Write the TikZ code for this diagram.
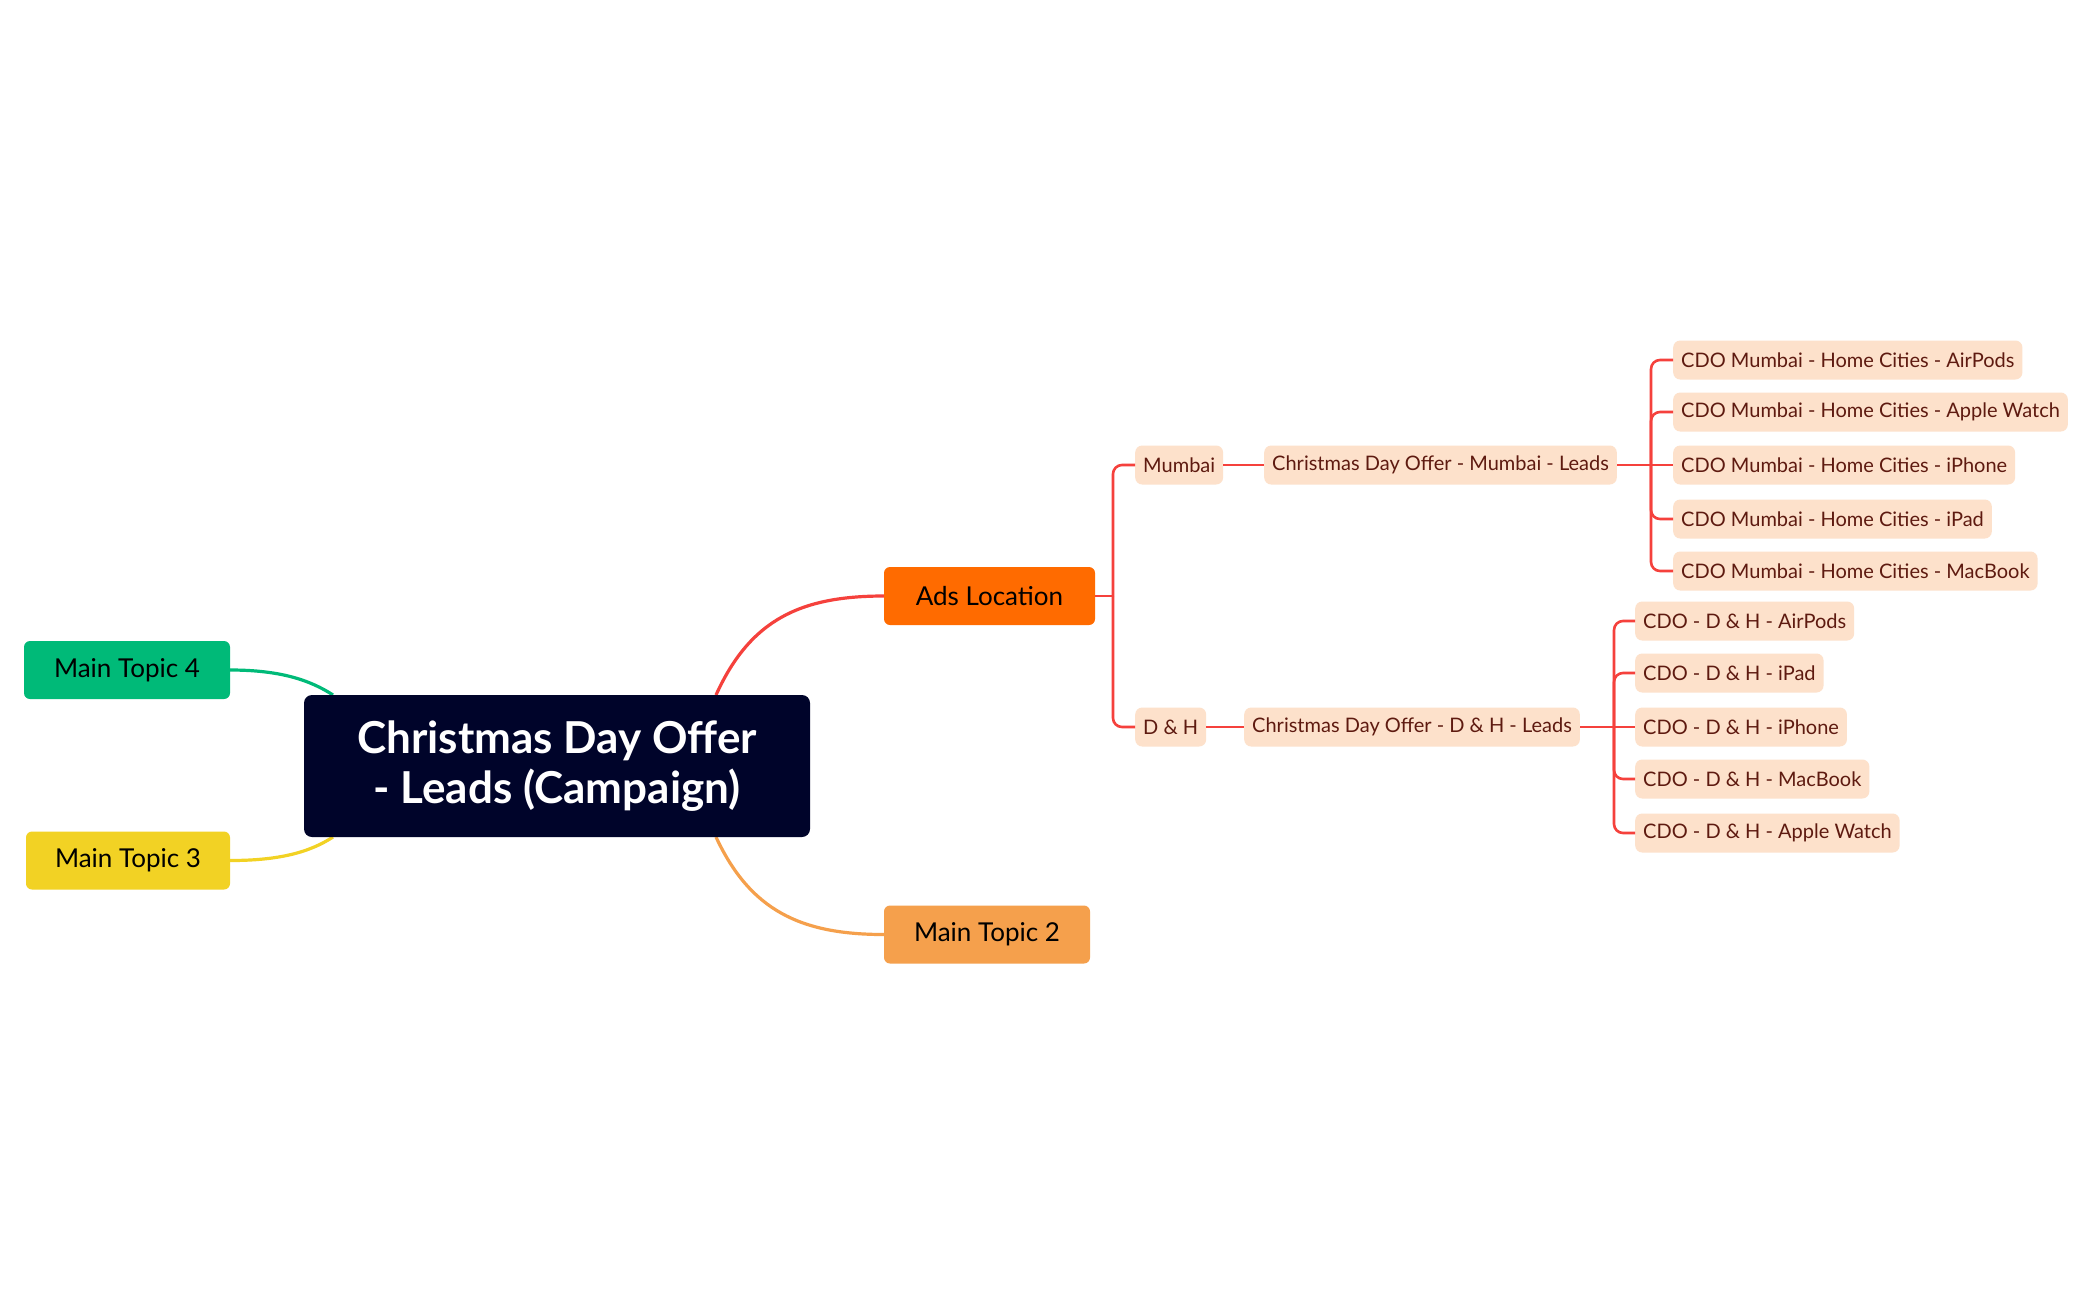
\documentclass[tikz,border=0pt]{standalone}
\usepackage{fontspec}
\setmainfont{Lato}
\begin{document}
\begin{tikzpicture}[x=1pt,y=-1pt,
  main/.style={rounded corners=6,minimum height=58,inner xsep=0,font=\fontsize{26}{30}\selectfont,text=black},
  sub/.style={rounded corners=7,fill=leaf,minimum height=39,inner xsep=8,font=\fontsize{20}{24}\selectfont,text=leaftxt,anchor=west},
  lk/.style={line width=3.2},
  rl/.style={draw=redl,line width=2.6,rounded corners=9}]
\definecolor{leaf}{HTML}{FDE1CB}
\definecolor{leaftxt}{HTML}{5E1A10}
\definecolor{redl}{HTML}{F5413C}
\definecolor{navy}{HTML}{00042A}
\definecolor{adsor}{HTML}{FF6B00}
\definecolor{mt2}{HTML}{F5A04C}
\definecolor{mt4}{HTML}{00BA78}
\definecolor{mt3}{HTML}{F2D224}
\useasboundingbox (0,0) rectangle (2100,1299);
\fill[white] (0,0) rectangle (2100,1299);
% connectors from center (drawn first)
\coordinate (cT) at (716,695);
\coordinate (cB) at (716,837);
\coordinate (cTL) at (333,695);
\coordinate (cBL) at (333,837);
\node[main,fill=adsor,minimum width=211] (ads) at (989.5,596) {Ads Location};
\node[main,fill=mt2,minimum width=206] (mt2) at (987,934.5) {Main Topic 2};
\node[main,fill=mt4,minimum width=206] (mt4) at (127,670) {Main Topic 4};
\node[main,fill=mt3,minimum width=204] (mt3) at (128,860.5) {Main Topic 3};
\draw[lk,redl] (cT) .. controls (750,620) and (800,596) .. (ads.west);
\draw[lk,mt2] (cB) .. controls (750,910) and (800,934.5) .. (mt2.west);
\draw[lk,mt4] (cTL) .. controls (310,680) and (280,670) .. (mt4.east);
\draw[lk,mt3] (cBL) .. controls (310,852) and (280,860.5) .. (mt3.east);
\node[rounded corners=8,fill=navy,minimum width=506,minimum height=142,text=white,align=center,
  font=\fontsize{44}{50}\selectfont\bfseries] (c) at (557,766) {Christmas Day Offer\\- Leads (Campaign)};
% level 2
\node[sub] (mum) at (1135,465) {Mumbai};
\node[sub] (dh) at (1135,727) {D \& H};
\node[sub] (lm) at (1264,465) {Christmas Day Offer - Mumbai - Leads};
\node[sub] (ld) at (1244,727) {Christmas Day Offer - D \& H - Leads};
\coordinate (tA) at (1113,596);
\draw[rl] (ads.east) -- (tA);
\draw[rl] (tA) |- (mum.west);
\draw[rl] (tA) |- (dh.west);
\draw[rl] (mum.east) -- (lm.west);
\draw[rl] (dh.east) -- (ld.west);
% Mumbai leaves
\node[sub] (m1) at (1673,360) {CDO Mumbai - Home Cities - AirPods};
\node[sub] (m2) at (1673,412) {CDO Mumbai - Home Cities - Apple Watch};
\node[sub] (m3) at (1673,465) {CDO Mumbai - Home Cities - iPhone};
\node[sub] (m4) at (1673,519) {CDO Mumbai - Home Cities - iPad};
\node[sub] (m5) at (1673,571) {CDO Mumbai - Home Cities - MacBook};
\coordinate (tM) at (1651,465);
\draw[rl] (lm.east) -- (m3.west);
\foreach \n in {m1,m2,m4,m5} \draw[rl] (tM) |- (\n.west);
% D&H leaves
\node[sub] (d1) at (1635,621) {CDO - D \& H - AirPods};
\node[sub] (d2) at (1635,673) {CDO - D \& H - iPad};
\node[sub] (d3) at (1635,727) {CDO - D \& H - iPhone};
\node[sub] (d4) at (1635,779) {CDO - D \& H - MacBook};
\node[sub] (d5) at (1635,833) {CDO - D \& H - Apple Watch};
\coordinate (tD) at (1614,727);
\draw[rl] (ld.east) -- (d3.west);
\foreach \n in {d1,d2,d4,d5} \draw[rl] (tD) |- (\n.west);
\end{tikzpicture}
\end{document}
